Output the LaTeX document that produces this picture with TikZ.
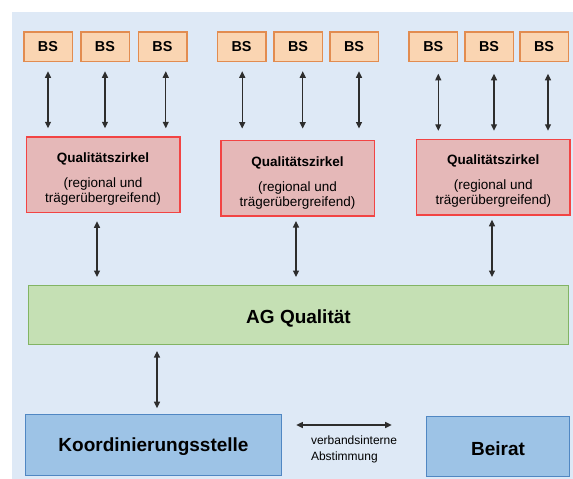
\documentclass[tikz,border=0pt]{standalone}
\usepackage{fontspec}
\setmainfont{Liberation Sans}
\usetikzlibrary{arrows.meta}
\definecolor{bgblue}{RGB}{222,233,246}
\definecolor{bsfill}{RGB}{250,213,178}
\definecolor{bsdraw}{RGB}{226,140,80}
\definecolor{qzfill}{RGB}{229,184,184}
\definecolor{qzdraw}{RGB}{242,68,68}
\definecolor{agfill}{RGB}{197,224,180}
\definecolor{agdraw}{RGB}{130,180,100}
\definecolor{bbfill}{RGB}{157,195,230}
\definecolor{bbdraw}{RGB}{80,135,195}
\definecolor{arrowgray}{RGB}{45,45,45}
\begin{document}
\begin{tikzpicture}[x=1pt,y=-1pt,
  box/.style={rectangle, inner sep=0pt, outer sep=0pt},
  bsbox/.style={box, fill=bsfill, draw=bsdraw, line width=1.5pt, minimum width=48.5pt, minimum height=29.5pt, font=\fontsize{14.4}{16}\selectfont\bfseries},
  qzbox/.style={box, fill=qzfill, draw=qzdraw, line width=1.5pt, minimum width=153.5pt, minimum height=75.5pt},
  qztext/.style={box, align=center, font=\fontsize{13.5}{15}\selectfont},
  agbox/.style={box, fill=agfill, draw=agdraw, line width=1pt, minimum width=540pt, minimum height=59pt, font=\fontsize{19}{22}\selectfont\bfseries},
  bbbox/.style={box, fill=bbfill, draw=bbdraw, line width=1.3pt, font=\fontsize{19}{22}\selectfont\bfseries},
  note/.style={box, align=left, anchor=north west, font=\fontsize{12}{16}\selectfont},
  dar/.style={{Triangle[length=6.5pt,width=6pt]}-{Triangle[length=6.5pt,width=6pt]}, line width=1.2pt, draw=arrowgray}
]
\useasboundingbox (0,0) rectangle (573,479);
\fill[white] (0,0) rectangle (573,479);
\fill[bgblue] (12,12) rectangle (573,479);

% BS boxes
\node[bsbox] (b11) at (48,46.5) {BS};
\node[bsbox] (b12) at (105,46.5) {BS};
\node[bsbox] (b13) at (162.5,46.5) {BS};
\node[bsbox] (b21) at (241.5,46.5) {BS};
\node[bsbox] (b22) at (298,46.5) {BS};
\node[bsbox] (b23) at (354,46.5) {BS};
\node[bsbox] (b31) at (433.3,46.5) {BS};
\node[bsbox] (b32) at (489,46.5) {BS};
\node[bsbox] (b33) at (544,46.5) {BS};

% Qualitaetszirkel
\node[qzbox] (q1) at (103,174.5) {};
\node[qzbox] (q2) at (297.5,178.3) {};
\node[qzbox] (q3) at (493.3,177) {};
\node[qztext] (q1t) at ([yshift=-4.5pt]q1.center) {\textbf{Qualitätszirkel}\\[10pt](regional und\\trägerübergreifend)};
\node[qztext] (q2t) at ([yshift=-4.5pt]q2.center) {\textbf{Qualitätszirkel}\\[10pt](regional und\\trägerübergreifend)};
\node[qztext] (q3t) at ([yshift=-4.5pt]q3.center) {\textbf{Qualitätszirkel}\\[10pt](regional und\\trägerübergreifend)};

% AG Qualitaet
\node[agbox] (ag) at (298.5,315) {\raisebox{-3pt}[\height][\depth]{AG Qualität}};

% bottom boxes
\node[bbbox, minimum width=255.7pt, minimum height=60.7pt] (k) at (153.5,445) {\raisebox{-1.5pt}[\height][\depth]{Koordinierungsstelle}};
\node[bbbox, minimum width=142.7pt, minimum height=59.7pt] (be) at (498,446.5) {\raisebox{-2pt}[\height][\depth]{Beirat}};
\node[note] (vt) at (311,436) {verbandsinterne\\Abstimmung};

% arrows BS <-> QZ
\draw[dar, shorten <=10pt, shorten >=8.5pt] (b11.south) -- (b11.south |- q1.north);
\draw[dar, shorten <=10pt, shorten >=8.5pt] (b12.south) -- (b12.south |- q1.north);
\draw[dar, shorten <=10pt, shorten >=8.5pt] ([xshift=3.3pt]b13.south) -- ([xshift=3.3pt]b13.south |- q1.north);
\draw[dar, shorten <=10pt, shorten >=12pt] ([xshift=0.7pt]b21.south) -- ([xshift=0.7pt]b21.south |- q2.north);
\draw[dar, shorten <=10pt, shorten >=12pt] ([xshift=4.7pt]b22.south) -- ([xshift=4.7pt]b22.south |- q2.north);
\draw[dar, shorten <=10pt, shorten >=12pt] ([xshift=5pt]b23.south) -- ([xshift=5pt]b23.south |- q2.north);
\draw[dar, shorten <=12.5pt, shorten >=8.5pt] ([xshift=5pt]b31.south) -- ([xshift=5pt]b31.south |- q3.north);
\draw[dar, shorten <=12.5pt, shorten >=8.5pt] ([xshift=5pt]b32.south) -- ([xshift=5pt]b32.south |- q3.north);
\draw[dar, shorten <=12.5pt, shorten >=8.5pt] ([xshift=4pt]b33.south) -- ([xshift=4pt]b33.south |- q3.north);

% arrows QZ <-> AG
\draw[dar, shorten <=9pt, shorten >=8.5pt] ([xshift=-6pt]q1.south) -- ([xshift=-6pt]q1.south |- ag.north);
\draw[dar, shorten <=5pt, shorten >=8.5pt] ([xshift=-1.5pt]q2.south) -- ([xshift=-1.5pt]q2.south |- ag.north);
\draw[dar, shorten <=5pt, shorten >=8.5pt] ([xshift=-1.3pt]q3.south) -- ([xshift=-1.3pt]q3.south |- ag.north);

% AG <-> Koordinierungsstelle
\draw[dar, shorten <=6.5pt, shorten >=6.5pt] ([xshift=3.5pt]k.north) -- ([xshift=3.5pt]k.north |- ag.south);

% Koordinierungsstelle <-> Beirat
\draw[dar, shorten <=15pt, shorten >=35pt] ([yshift=20pt]k.east) -- ([yshift=20pt]k.east -| be.west);
\end{tikzpicture}
\end{document}
